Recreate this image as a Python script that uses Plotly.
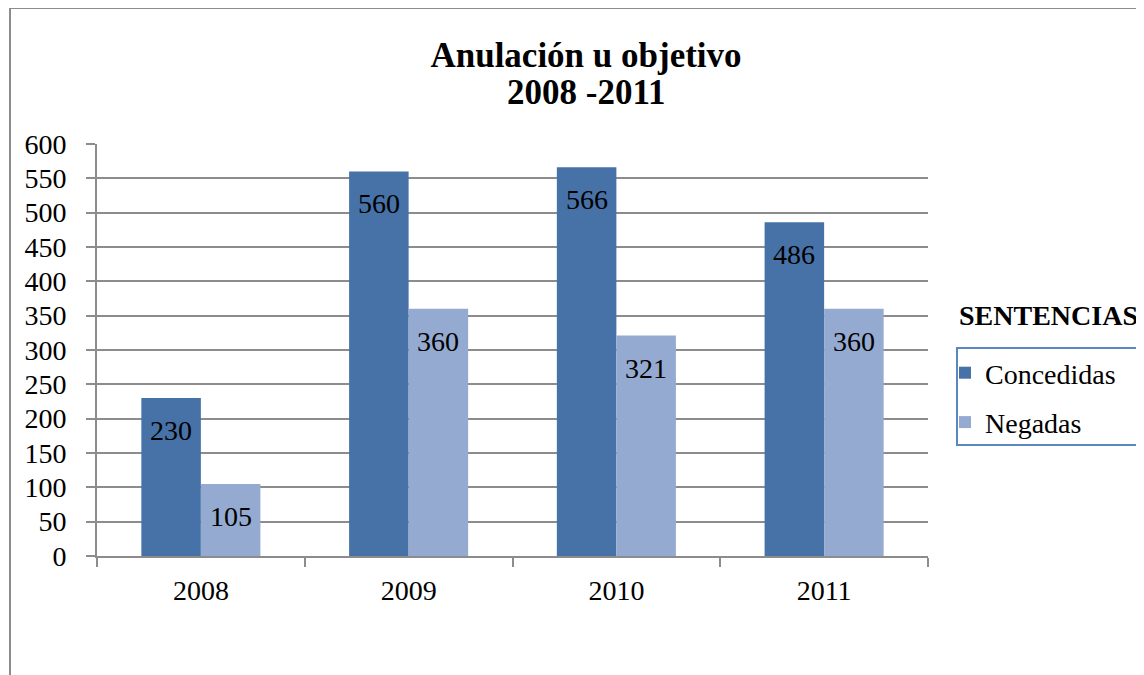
import plotly.graph_objects as go

years = ["2008", "2009", "2010", "2011"]
concedidas = [230, 560, 566, 486]
negadas = [105, 360, 321, 360]
y_ticks = list(range(0, 601, 50))

dark = "#4672A8"
light = "#95AAD1"
grid = "#8C8C8C"
font_family = "Liberation Serif, Times New Roman, serif"

# the page body adds an 8px offset; target plot area in screen px: x 97..928, y 144..556
OFF = 8
L, R, T, B = 97, 928, 144, 556

def px(v):
    return (v - L) / (R - L)

def py(v):
    return (B - v) / (B - T)

fig = go.Figure()
fig.add_trace(go.Bar(x=years, y=concedidas, name="Concedidas", marker_color=dark,
                     marker_line_width=0, legendgroup="a"))
fig.add_trace(go.Bar(x=years, y=negadas, name="Negadas", marker_color=light,
                     marker_line_width=0, legendgroup="b"))

annotations = []
for i, yr in enumerate(years):
    for vals, shift in ((concedidas, -29.75), (negadas, 29.75)):
        annotations.append(dict(x=i, y=vals[i], xref="x", yref="y", text=str(vals[i]),
                                showarrow=False, xshift=shift, yanchor="top", yshift=-15,
                                font=dict(size=28, color="black", family=font_family)))

annotations.append(dict(x=px(1048), y=py(315), xref="paper", yref="paper",
                        text="<b>SENTENCIAS</b>", showarrow=False,
                        xanchor="center", yanchor="middle",
                        font=dict(size=28, color="black", family=font_family)))
annotations.append(dict(x=px(586), y=py(93), xref="paper", yref="paper",
                        text="<b>2008 -2011</b>", showarrow=False,
                        xanchor="center", yanchor="middle",
                        font=dict(size=35, color="black", family=font_family)))

shapes = [
    dict(type="rect", xref="paper", yref="paper", x0=px(10), x1=px(1170), y0=py(720), y1=py(8),
         line=dict(color=grid, width=2), layer="below"),
    dict(type="rect", xref="paper", yref="paper", x0=px(957), x1=px(1170), y0=py(445), y1=py(348),
         line=dict(color="#5B87C0", width=2)),
]

fig.update_layout(
    width=1144, height=675,
    margin=dict(l=L - OFF, r=1144 - R + OFF, t=T - OFF, b=675 - B + OFF, autoexpand=False),
    paper_bgcolor="white", plot_bgcolor="white",
    font=dict(family=font_family, size=28, color="black"),
    title=dict(text="<b>Anulación u objetivo</b>", x=(586 - OFF) / 1144, xanchor="center",
               y=1 - (55 - OFF) / 675, yanchor="middle",
               font=dict(size=35, color="black", family=font_family)),
    barmode="group", bargap=0.427, bargroupgap=0,
    showlegend=True,
    legend=dict(x=px(945), y=py(348), xanchor="left", yanchor="top",
                font=dict(size=28, color="black", family=font_family),
                bgcolor="rgba(0,0,0,0)", borderwidth=0,
                traceorder="grouped", tracegroupgap=10, itemwidth=30),
    annotations=annotations,
    shapes=shapes,
)
fig.update_xaxes(type="category", categoryarray=years, range=[-0.5, 3.5],
                 showline=True, linecolor=grid, linewidth=2, ticks="outside",
                 tickson="boundaries", ticklen=9, tickcolor=grid, tickwidth=2, showgrid=False,
                 automargin=False, tickangle=0, ticklabelstandoff=8,
                 tickfont=dict(size=28, color="black", family=font_family))
fig.update_yaxes(range=[0, 600], tickvals=y_ticks, showline=True, linecolor=grid, linewidth=2,
                 ticks="outside", ticklen=9, tickcolor=grid, tickwidth=2, automargin=False,
                 showgrid=True, gridcolor=grid, gridwidth=2, zeroline=False,
                 ticklabelstandoff=14,
                 tickfont=dict(size=28, color="black", family=font_family))

fig.write_html("out.html")
